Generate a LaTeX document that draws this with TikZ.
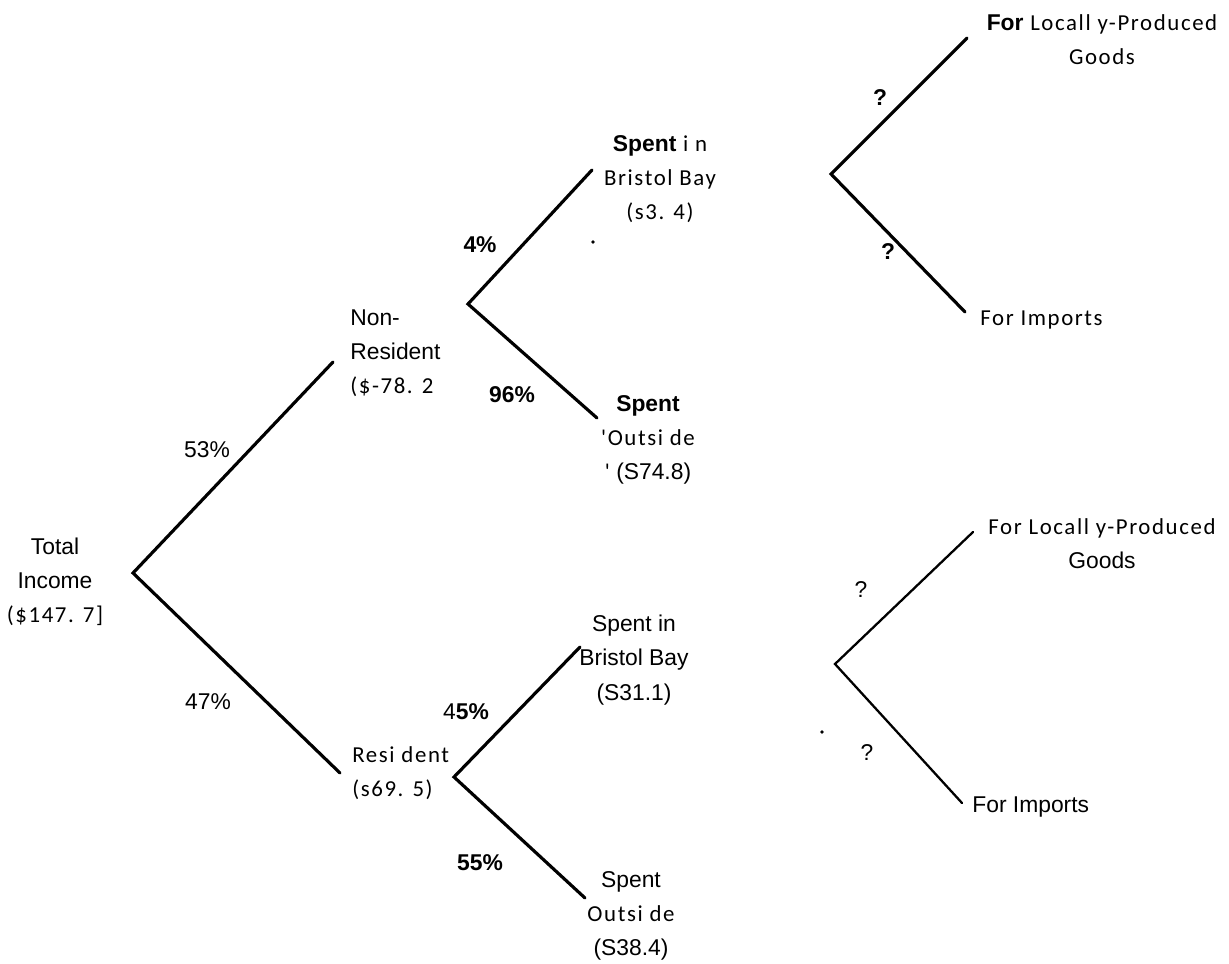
\documentclass[tikz,border=0pt]{standalone}
\usepackage{fontspec}
\usepackage{tikz}
\usetikzlibrary{positioning}
\newfontfamily\heavyf{Liberation Sans}
\newfontfamily\thinf[LetterSpace=7]{Carlito}

\begin{document}
\begin{tikzpicture}[x=0.02cm, y=-0.02cm]
	\tikzstyle{Branch}	= [line width=1.8pt, line cap=round, line join=miter]
	\tikzstyle{Light}	= [line width=1.3pt]
	\tikzstyle{Thin}	= [font=\thinf\fontsize{13}{19.5}\selectfont, inner sep=0pt, align=center]
	\tikzstyle{Heavy}	= [font=\heavyf\fontsize{13}{19.5}\selectfont, inner sep=0pt, align=center]
	\tikzstyle{Bold}	= [Heavy, font=\heavyf\bfseries\fontsize{13}{19.5}\selectfont]
	\tikzstyle{Speck}	= [circle, fill=black, minimum size=2.2pt, inner sep=0pt]

	\useasboundingbox (0,0) rectangle (1229,963);

	\foreach \n/\x/\y in {t0/133/573, nr/333/362, rs/340/773, t1/468/304, nrin/592/170, nrout/597/418, t2/454/777, rsin/580/647, rsout/585/898, t3/831/174, nloc/967/38, nimp/965/312, t4/835/664, rloc/973/532, rimp/962/803}
		\coordinate (\n) at (\x, \y);
	\foreach \a/\v/\b in {nr/t0/rs, nrin/t1/nrout, rsin/t2/rsout, nloc/t3/nimp}
		\draw [Branch] (\a) -- (\v) -- (\b);
	\draw [Branch][Light] (rloc) -- (t4) -- (rimp);

	\node (total) at (55, 582) [Heavy] {Total\\Income\\{\thinf (\$147. 7]}};
	\node (nonres) at (350, 353) [Heavy, anchor=west, align=left] {Non-\\Resident\\{\thinf (\$-78. 2}};
	\node (res) at (352, 773) [Thin, anchor=west, align=left] {Resi dent\\(s69. 5)};

	\node (nrinl) at (660, 179) [Thin] {{\heavyf\bfseries Spent} i n\\Bristol Bay\\(s3. 4)};
	\node (nroutl) at (648, 440) [Heavy] {{\bfseries Spent}\\{\thinf 'Outsi de}\\{\thinf '} (S74.8)};
	\node (rsinl) at (634, 660) [Heavy] {Spent in\\Bristol Bay\\(S31.1)};
	\node (rsoutl) at (631, 916) [Heavy] {Spent\\{\thinf Outsi de}\\(S38.4)};

	\node (nlocl) at (1102, 40) [Thin] {{\heavyf\bfseries For} Locall y-Produced\\Goods};
	\node (nimpl) at (980, 320) [Thin, anchor=west] {For Imports};
	\node (rlocl) at (1102, 544) [Thin] {For Locall y-Produced\\{\heavyf Goods}};
	\node (rimpl) at (972, 807) [Heavy, anchor=west] {For Imports};

	\foreach \n/\x/\y/\t in {p53/207/450/53\%, p47/208/702/47\%, q3/861/590/?, q4/867/753/?}
		\node (\n) at (\x, \y) [Heavy] {\t};
	\foreach \n/\x/\y/\t in {p4/480/245/4\%, p96/512/395/96\%, p55/480/863/55\%, q1/880/98/?, q2/888/252/?}
		\node (\n) at (\x, \y) [Bold] {\t};
	\node (p45) at (466, 712) [Heavy] {4{\bfseries 5\%}};

	\node (speck1) at (593, 242) [Speck] {};
	\node (speck2) at (822, 732) [Speck] {};
\end{tikzpicture}
\end{document}
